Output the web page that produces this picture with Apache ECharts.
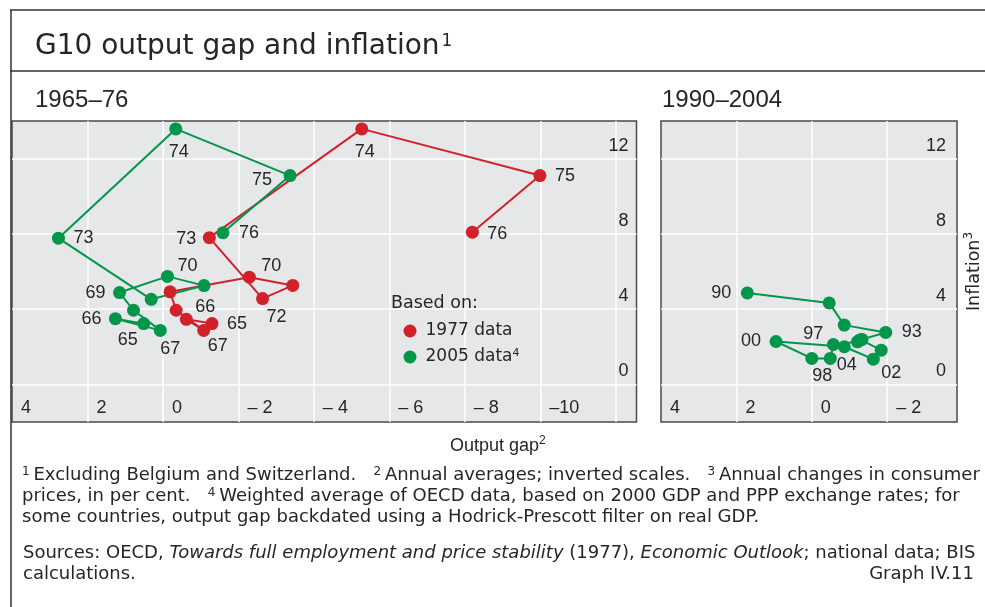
<!DOCTYPE html>
<html>
<head>
<meta charset="utf-8">
<script src="https://cdn.jsdelivr.net/npm/echarts@6/dist/echarts.min.js"></script>
<style>
  html, body { margin: 0; padding: 0; background: #fff; }
  #chart { width: 985px; height: 607px; }
</style>
</head>
<body>
<div id="chart"></div>
<script>
// 1965-76 panel: output gap (inverted scale) vs inflation, two vintages of data
const years6576 = ['65', '66', '67', '68', '69', '70', '71', '72', '73', '74', '75', '76'];
const gap1977 = [-1.30, -0.62, -1.08, -0.35, -0.19, -2.29, -3.44, -2.64, -1.23, -5.27, -9.99, -8.20];
const infl1977 = [3.23, 3.46, 2.87, 3.94, 4.92, 5.70, 5.26, 4.56, 7.80, 13.58, 11.10, 8.09];
const gap2005 = [0.51, 1.26, 0.07, 0.78, 1.15, -0.12, -1.09, 0.31, 2.77, -0.34, -3.37, -1.59];
const infl2005 = [3.23, 3.49, 2.87, 3.94, 4.88, 5.74, 5.25, 4.52, 7.77, 13.58, 11.10, 8.06];

// 1990-2004 panel
const years9004 = ['90', '91', '92', '93', '94', '95', '96', '97', '98', '99', '00', '01', '02', '03', '04'];
const gap9004 = [1.71, -0.46, -0.86, -1.96, -1.33, -1.21, -1.25, -0.57, -0.49, 0.00, 0.95, -0.86, -1.63, -1.84, -1.30];
const infl9004 = [4.86, 4.33, 3.15, 2.76, 2.39, 2.26, 2.33, 2.12, 1.38, 1.38, 2.28, 2.00, 1.34, 1.82, 2.37];

// ticks
const gapGridLeft = [2, 0, -2, -4, -6, -8, -10, -12];
const gapLabelsLeft = [4, 2, 0, -2, -4, -6, -8, -10];
const gapGridRight = [2, 0, -2];
const gapLabelsRight = [4, 2, 0, -2];
const inflTicks = [0, 4, 8, 12];

// which years get a text label, and its pixel offset from the dot
const lab1977 = { '65': [25, 0], '66': [19, -12], '67': [14, 16], '70': [22, -11], '72': [14, 18],
  '73': [-23, 1], '74': [3, 23], '75': [25, 0], '76': [25, 2] };
const lab2005 = { '65': [-16, 16], '66': [-24, 0], '67': [10, 19], '69': [-24, 0], '70': [20, -10],
  '73': [25, 0], '74': [3, 23], '75': [-28, 4], '76': [26, 0] };
const lab9004 = { '90': [-26, 0], '93': [26, 0], '97': [-20, -10], '98': [-8, 18], '00': [-25, 0],
  '02': [18, 14], '04': [-14, 25] };

const NUM = '"Liberation Sans", Arial, sans-serif';
const TEXT = '"DejaVu Sans", sans-serif';
const RED = '#d1222c';
const GREEN = '#00974b';
const TXT = '#262626';
const BG = '#e6e7e9';

const points = (xs, ys, years, labs) => xs.map((x, i) => ({
  name: years[i],
  value: [x, ys[i]],
  label: labs[years[i]] ? { show: true, offset: labs[years[i]] } : { show: false }
}));

const fmtGap = v => v < 0 ? (v <= -10 ? '–' + (-v) : '– ' + (-v)) : String(v);

const supStyle = (font, size) => ({ s: { fontSize: size, lineHeight: size, verticalAlign: 'top', fontFamily: font, color: TXT } });

const xAxisBase = (grid, min, grids, labels) => ({
  gridIndex: grid, type: 'value', inverse: true, min: min, max: 4,
  axisLine: { show: false },
  axisTick: { show: false, customValues: grids },
  splitLine: { show: true, lineStyle: { color: '#fff', width: 1.5 } },
  axisLabel: {
    inside: true, customValues: labels, margin: 5, align: 'left', padding: [0, 0, 0, 9],
    formatter: fmtGap, fontSize: 18, color: TXT, fontFamily: NUM
  }
});

const yAxisBase = (grid, margin) => ({
  gridIndex: grid, type: 'value', position: 'right', min: -2, max: 14,
  axisLine: { show: false },
  axisTick: { show: false, customValues: inflTicks },
  splitLine: { show: true, lineStyle: { color: '#fff', width: 1.5 } },
  axisLabel: {
    inside: true, customValues: inflTicks, margin: margin, verticalAlign: 'bottom', padding: [0, 0, 4, 0],
    fontSize: 18, color: TXT, fontFamily: NUM
  }
});

const lineSeries = (name, color, xi, data) => ({
  name: name, type: 'line', xAxisIndex: xi, yAxisIndex: xi, data: data,
  symbol: 'circle', symbolSize: 13, showAllSymbol: true,
  lineStyle: { color: color, width: 2 },
  itemStyle: { color: color },
  label: { position: 'inside', formatter: p => p.name, fontSize: 18, color: TXT, fontFamily: NUM },
  emphasis: { disabled: true }
});

const chart = echarts.init(document.getElementById('chart'));
chart.setOption({
  animation: false,
  textStyle: { fontFamily: NUM },
  title: [
    { text: 'G10 output gap and inflation{s|1}', left: 35, top: 30, padding: 0,
      textStyle: { fontSize: 28, lineHeight: 34, fontWeight: 'normal', color: TXT, fontFamily: TEXT,
        rich: { s: { fontSize: 17, lineHeight: 17, verticalAlign: 'top', padding: [3, 0, 0, 2], fontFamily: TEXT, color: TXT } } } },
    { text: '1965–76', left: 35, top: 86, padding: 0,
      textStyle: { fontSize: 24, lineHeight: 28, fontWeight: 'normal', color: TXT, fontFamily: NUM } },
    { text: '1990–2004', left: 662, top: 86, padding: 0,
      textStyle: { fontSize: 24, lineHeight: 28, fontWeight: 'normal', color: TXT, fontFamily: NUM } },
    { text: 'Based on:', left: 391, top: 292, padding: 0,
      textStyle: { fontSize: 17.5, lineHeight: 22, fontWeight: 'normal', color: TXT, fontFamily: TEXT } },
    { text: 'Output gap{s|2}', left: 450, top: 435, padding: 0,
      textStyle: { fontSize: 18, lineHeight: 22, fontWeight: 'normal', color: TXT, fontFamily: NUM,
        rich: supStyle(NUM, 12) } },
    { text: [
        '{s|1 }Excluding Belgium and Switzerland.   {s|2 }Annual averages; inverted scales.   {s|3 }Annual changes in consumer',
        'prices, in per cent.   {s|4 }Weighted average of OECD data, based on 2000 GDP and PPP exchange rates; for',
        'some countries, output gap backdated using a Hodrick-Prescott filter on real GDP.'
      ].join('\n'),
      left: 22, top: 465, padding: 0,
      textStyle: { fontSize: 18, lineHeight: 21, fontWeight: 'normal', color: TXT, fontFamily: TEXT,
        rich: { s: { fontSize: 12, lineHeight: 12, verticalAlign: 'top', padding: [1, 0, 0, 0], fontFamily: TEXT, color: TXT } } } },
    { text: 'Sources: OECD, {i|Towards full employment and price stability} (1977), {i|Economic Outlook}; national data; BIS\ncalculations.',
      left: 23, top: 543, padding: 0,
      textStyle: { fontSize: 18, lineHeight: 21, fontWeight: 'normal', color: TXT, fontFamily: TEXT,
        rich: { i: { fontStyle: 'italic', fontSize: 18, lineHeight: 21, fontFamily: TEXT, color: TXT } } } },
    { text: 'Graph IV.11', right: 11, top: 564, padding: 0,
      textStyle: { fontSize: 18, lineHeight: 21, fontWeight: 'normal', color: TXT, fontFamily: TEXT } }
  ],
  legend: {
    orient: 'vertical', left: 403.5, top: 322, itemGap: 8, padding: 0,
    itemWidth: 13, itemHeight: 13, icon: 'circle',
    selectedMode: false,
    data: ['1977 data', '2005 data'],
    formatter: n => n === '2005 data' ? '2005 data{s|4}' : n,
    textStyle: { fontSize: 17, lineHeight: 18, color: TXT, fontFamily: TEXT, padding: [0, 0, 0, 4],
      rich: { s: { fontSize: 11, lineHeight: 11, verticalAlign: 'top', fontFamily: TEXT, color: TXT } } }
  },
  graphic: [
    { type: 'line', shape: { x1: 10, y1: 10, x2: 985, y2: 10 }, style: { stroke: '#333', lineWidth: 1.5 } },
    { type: 'line', shape: { x1: 10, y1: 71, x2: 985, y2: 71 }, style: { stroke: '#333', lineWidth: 1.5 } },
    { type: 'line', shape: { x1: 11, y1: 10, x2: 11, y2: 607 }, style: { stroke: '#333', lineWidth: 1.5 } }
  ],
  grid: [
    { left: 12, top: 121, width: 624.5, height: 301, outerBoundsMode: 'none', show: true,
      backgroundColor: BG, borderColor: '#4a4a4a', borderWidth: 1.5 },
    { left: 661, top: 121, width: 296, height: 301, outerBoundsMode: 'none', show: true,
      backgroundColor: BG, borderColor: '#4a4a4a', borderWidth: 1.5 }
  ],
  xAxis: [
    xAxisBase(0, -12.55, gapGridLeft, gapLabelsLeft),
    xAxisBase(1, -3.85, gapGridRight, gapLabelsRight)
  ],
  yAxis: [
    yAxisBase(0, 8),
    Object.assign(yAxisBase(1, 11), {
      name: 'Inflation{s|3}', nameLocation: 'middle', nameRotate: 90, nameGap: 6,
      nameTextStyle: { fontSize: 17.5, lineHeight: 22, color: TXT, fontFamily: TEXT, rich: supStyle(TEXT, 12) }
    })
  ],
  series: [
    lineSeries('1977 data', RED, 0, points(gap1977, infl1977, years6576, lab1977)),
    lineSeries('2005 data', GREEN, 0, points(gap2005, infl2005, years6576, lab2005)),
    lineSeries('2005 data', GREEN, 1, points(gap9004, infl9004, years9004, lab9004))
  ]
});
</script>
</body>
</html>
